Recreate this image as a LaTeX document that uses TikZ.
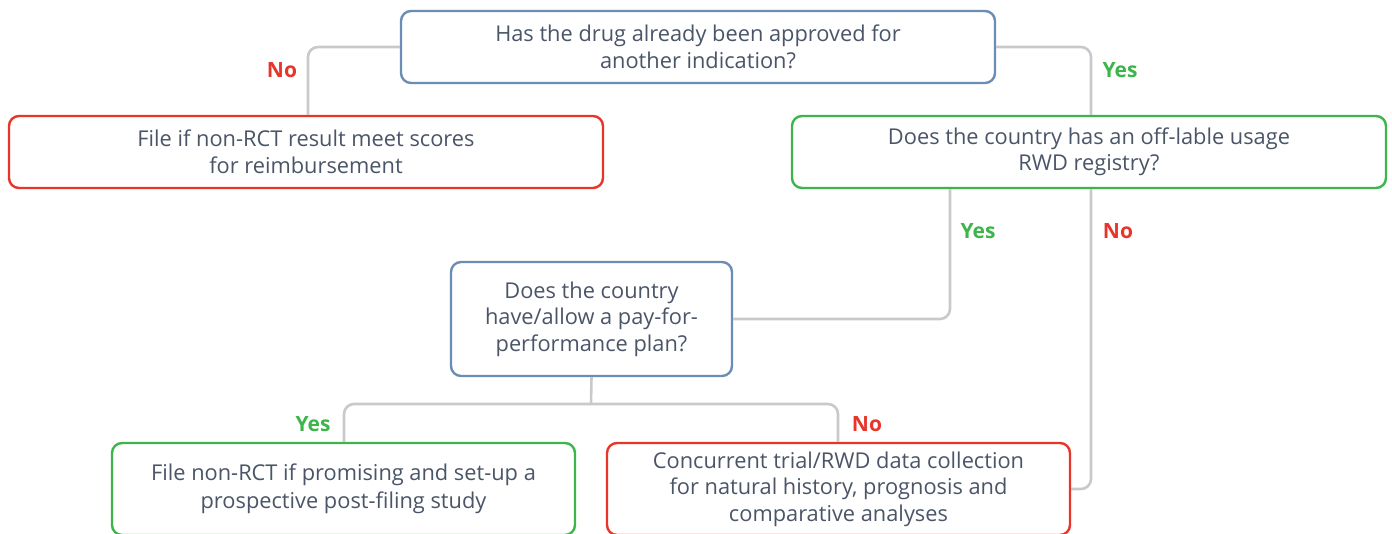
\documentclass[tikz,border=0pt]{standalone}
\usepackage{fontspec}
\setmainfont{Open Sans}
\definecolor{txt}{HTML}{4A5568}
\definecolor{qblue}{HTML}{6B8DB5}
\definecolor{okgreen}{HTML}{3DB54A}
\definecolor{nored}{HTML}{E8352A}
\definecolor{wire}{HTML}{C9C9CD}
\tikzset{
  box/.style={draw, line width=2.4pt, rounded corners=10pt, fill=white,
    align=center, inner sep=0pt, text=txt,
    font=\fontsize{21.8}{26.5}\selectfont},
  question/.style={box, draw=qblue},
  yesbox/.style={box, draw=okgreen},
  nobox/.style={box, draw=nored},
  conn/.style={draw=wire, line width=2.6pt, rounded corners=10pt},
  yeslabel/.style={text=okgreen, font=\fontsize{21}{24}\selectfont\bfseries},
  nolabel/.style={text=nored, font=\fontsize{21}{24}\selectfont\bfseries}
}
\begin{document}
\begin{tikzpicture}[x=1pt,y=-1pt]
\useasboundingbox (0,0) rectangle (1392,534);

\coordinate (split) at (591,404);

% boxes
\node[question, minimum width=594pt, minimum height=72pt] (q1) at (698,47)
  {Has the drug already been approved for\\another indication?};
\node[nobox, minimum width=594pt, minimum height=72pt] (r1) at (306,152)
  {File if non-RCT result meet scores\\for reimbursement};
\node[yesbox, minimum width=594pt, minimum height=72pt] (q2) at (1089,152)
  {Does the country has an off-lable usage\\RWD registry?};
\node[question, minimum width=281pt, minimum height=114pt] (q3) at (591.5,319)
  {Does the country\\have/allow a pay-for-\\performance plan?};
\node[yesbox, minimum width=463pt, minimum height=92pt] (g3) at (343.5,489)
  {\raisebox{2pt}{\shortstack{File non-RCT if promising and set-up a\\[3pt]prospective post-filing study}}};
\node[nobox, minimum width=463pt, minimum height=92pt] (r3) at (838.5,489)
  {Concurrent trial/RWD data collection\\for natural history, prognosis and\\comparative analyses};

% connectors
\draw[conn] (q1.west) -| ([xshift=2pt]r1.north);
\draw[conn] (q1.east) -| ([xshift=2pt]q2.north);
\draw[conn] ([xshift=-139pt]q2.south) |- (q3.east);
\draw[conn] ([xshift=2pt]q2.south) |- (r3.east);
\draw[conn] (q3.south) -- (split);
\draw[conn] ([xshift=0.5pt]g3.north) |- (split) -| ([xshift=-0.5pt]r3.north);

% branch labels
\node[nolabel] (l1) at (282,70) {No};
\node[yeslabel] (l2) at (1120,70) {Yes};
\node[yeslabel] (l3) at (978,231) {Yes};
\node[nolabel] (l4) at (1118,231) {No};
\node[yeslabel] (l5) at (313,424) {Yes};
\node[nolabel] (l6) at (867,424) {No};
\end{tikzpicture}
\end{document}
